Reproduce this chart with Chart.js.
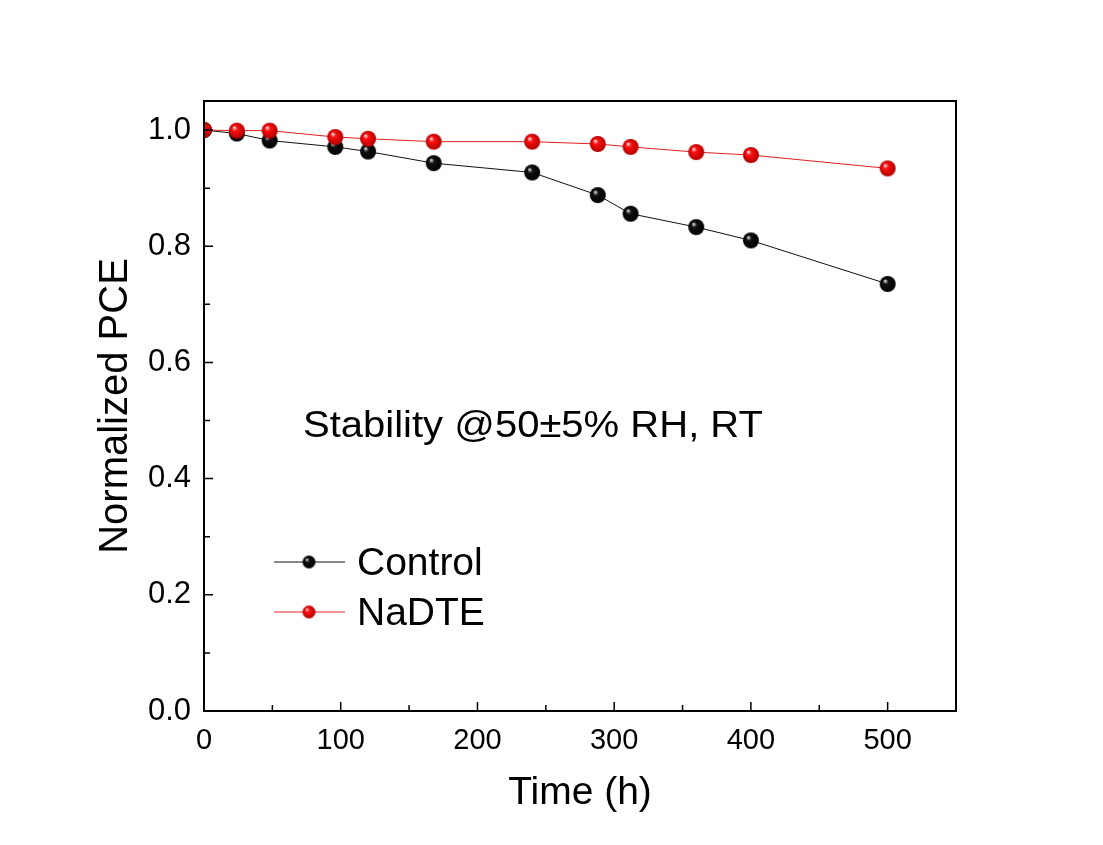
<!DOCTYPE html>
<html>
<head>
<meta charset="utf-8">
<script src="https://cdn.jsdelivr.net/npm/chart.js@4/dist/chart.umd.min.js"></script>
<style>
  body { margin: 0; background: #fff; }
  canvas { display: block; }
</style>
</head>
<body>
<canvas id="stability-chart" width="1103" height="845"></canvas>
<script>
const hours = [0, 24, 48, 96, 120, 168, 240, 288, 312, 360, 400, 500];
const control = [1.0, 0.994, 0.982, 0.971, 0.963, 0.943, 0.927, 0.888, 0.856, 0.833, 0.810, 0.735];
const nadte = [1.0, 0.999, 0.999, 0.988, 0.985, 0.980, 0.980, 0.976, 0.971, 0.962, 0.957, 0.934];
const xTicks = [0, 100, 200, 300, 400, 500];
const yTicks = [0.0, 0.2, 0.4, 0.6, 0.8, 1.0];
const note = "Stability @50\u00b15% RH, RT";

// shaded ball used as marker
function makeBall(r, base, light, dark) {
  const c = document.createElement("canvas");
  c.width = c.height = r * 2 + 2;
  const g = c.getContext("2d");
  const cx = r + 1, cy = r + 1;
  const grad = g.createRadialGradient(cx - r * 0.35, cy - r * 0.4, r * 0.05, cx, cy, r);
  grad.addColorStop(0, light);
  grad.addColorStop(0.3, base);
  grad.addColorStop(1, dark);
  g.fillStyle = grad;
  g.beginPath();
  g.arc(cx, cy, r, 0, Math.PI * 2);
  g.fill();
  return c;
}
const blackBall = makeBall(8, "#111", "#d8d8d8", "#000");
const redBall = makeBall(8, "#ff1010", "#ffe0e0", "#b00000");
const blackSmall = makeBall(6.5, "#111", "#d8d8d8", "#000");
const redSmall = makeBall(6.5, "#ff1010", "#ffe0e0", "#b00000");

const FONT = "Arial, 'Liberation Sans', sans-serif";

const frame = {
  id: "frame",
  afterDraw(chart) {
    const { ctx, chartArea: a, scales } = chart;
    ctx.save();
    ctx.strokeStyle = "#000";
    ctx.lineWidth = 2;
    ctx.strokeRect(a.left, a.top, a.right - a.left, a.bottom - a.top);
    // inward ticks
    ctx.lineWidth = 1.5;
    ctx.beginPath();
    for (let v = 50; v < 550; v += 50) {
      const x = scales.x.getPixelForValue(v);
      const len = v % 100 === 0 ? 9 : 6;
      ctx.moveTo(x, a.bottom);
      ctx.lineTo(x, a.bottom - len);
    }
    for (let i = 1; i <= 10; i++) {
      const y = scales.y.getPixelForValue(i / 10);
      const len = i % 2 === 0 ? 9 : 6;
      ctx.moveTo(a.left, y);
      ctx.lineTo(a.left + len, y);
    }
    ctx.stroke();
    // note, a bit wide like the original
    ctx.fillStyle = "#000";
    ctx.font = "36px " + FONT;
    ctx.textBaseline = "alphabetic";
    const w = ctx.measureText(note).width;
    ctx.save();
    ctx.translate(a.left + 99, a.top + 336);
    ctx.scale(460 / w, 1);
    ctx.fillText(note, 0, 0);
    ctx.restore();
    // legend
    const items = [[chart.data.datasets[0], blackSmall], [chart.data.datasets[1], redSmall]];
    items.forEach(([ds, img], i) => {
      const y = 562 + i * 50;
      ctx.strokeStyle = ds.borderColor;
      ctx.lineWidth = 1;
      ctx.beginPath();
      ctx.moveTo(274, y);
      ctx.lineTo(345, y);
      ctx.stroke();
      ctx.drawImage(img, 309 - img.width / 2, y - img.height / 2);
      ctx.font = "39px " + FONT;
      ctx.fillText(ds.label, 357, y + 13);
    });
    ctx.restore();
  }
};

const config = {
  type: "line",
  data: {
    datasets: [
      {
        label: "Control",
        data: hours.map((h, i) => ({ x: h, y: control[i] })),
        borderColor: "#111",
        borderWidth: 1,
        pointStyle: blackBall,
        order: 2,
      },
      {
        label: "NaDTE",
        data: hours.map((h, i) => ({ x: h, y: nadte[i] })),
        borderColor: "#e02020",
        borderWidth: 1,
        pointStyle: redBall,
        order: 1,
      },
    ],
  },
  options: {
    responsive: false,
    animation: false,
    layout: { padding: { top: 101, right: 147, left: 0, bottom: 0 } },
    plugins: { legend: { display: false }, tooltip: { enabled: false } },
    scales: {
      x: {
        type: "linear",
        min: 0,
        max: 550,
        grid: { display: false, drawTicks: false },
        border: { display: false },
        afterFit(s) { s.height = 134; },
        ticks: {
          stepSize: 50,
          includeBounds: false,
          padding: 13,
          color: "#000",
          font: { family: FONT, size: 29 },
          callback: (v) => (xTicks.includes(v) ? String(v) : ""),
        },
        title: {
          display: true,
          text: "Time (h)",
          color: "#000",
          font: { family: FONT, size: 39 },
          padding: { top: 0, bottom: 28 },
        },
      },
      y: {
        min: 0,
        max: 1.05,
        grid: { display: false, drawTicks: false },
        border: { display: false },
        afterFit(s) { s.width = 204; },
        ticks: {
          stepSize: 0.1,
          includeBounds: false,
          padding: 13,
          color: "#000",
          font: { family: FONT, size: 31 },
          callback: (v) => {
            const t = yTicks.find((k) => Math.abs(k - v) < 1e-6);
            return t === undefined ? "" : t.toFixed(1);
          },
        },
        title: {
          display: true,
          text: "Normalized PCE",
          color: "#000",
          font: { family: FONT, size: 40 },
          padding: { top: 92, bottom: 0 },
        },
      },
    },
  },
  plugins: [frame],
};

var ctx = document.getElementById("stability-chart").getContext("2d");
var stabilityChart = new Chart(ctx, config);
</script>
</body>
</html>
